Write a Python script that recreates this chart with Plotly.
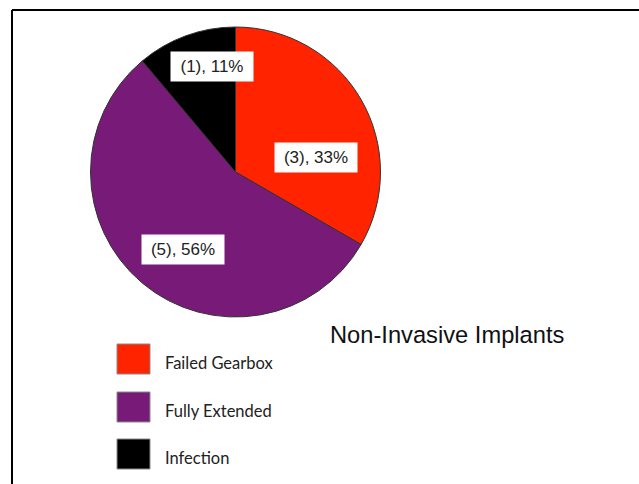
import plotly.graph_objects as go

# Outcome counts for the non-invasive implants
categories = ["Failed Gearbox", "Fully Extended", "Infection"]
counts = [3, 5, 1]
colors = ["#FF2300", "#781A78", "#000000"]
title_text = "Non-Invasive Implants"

W, H = 639, 484


def px_x(x):
    return x / W


def px_y(y):
    return 1 - y / H


total = sum(counts)
pct = [round(100 * c / total) for c in counts]

CX, CY, R = 235.5, 172, 145

fig = go.Figure(
    go.Pie(
        labels=categories,
        values=counts,
        sort=False,
        direction="clockwise",
        rotation=0,
        marker=dict(colors=colors, line=dict(color="#333333", width=1)),
        textinfo="none",
        hoverinfo="label+value+percent",
        showlegend=False,
        domain=dict(x=[px_x(CX - R), px_x(CX + R)],
                    y=[px_y(CY + R), px_y(CY - R)]),
    )
)

# White label boxes on each slice: "(count), pct%"
label_pos = {"Failed Gearbox": (316, 157), "Fully Extended": (183, 249), "Infection": (212, 66)}
annotations = []
for cat, c, p in zip(categories, counts, pct):
    x, y = label_pos[cat]
    annotations.append(dict(
        x=px_x(x), y=px_y(y), xref="paper", yref="paper",
        text=f"({c}), {p}%", showarrow=False,
        font=dict(family="Liberation Sans, Arial", size=17, color="#222222"),
        bgcolor="white", width=80, height=27, borderpad=1,
        xanchor="center", yanchor="middle",
    ))

# Title text to the right of the legend
annotations.append(dict(
    x=px_x(328), y=px_y(335), xref="paper", yref="paper",
    text=title_text, showarrow=False, xanchor="left", yanchor="middle",
    font=dict(family="Liberation Sans, Arial", size=23.7, color="#111111"),
))

# Legend: large colour swatches with labels
shapes = []
legend_tops = [344, 392, 439]
for cat, col, top in zip(categories, colors, legend_tops):
    shapes.append(dict(
        type="rect", xref="paper", yref="paper",
        x0=px_x(117), x1=px_x(150), y0=px_y(top + 30), y1=px_y(top),
        fillcolor=col, line=dict(color="#8a8a8a", width=1),
    ))
    annotations.append(dict(
        x=px_x(163), y=px_y(top + 19), xref="paper", yref="paper",
        text=cat, showarrow=False, xanchor="left", yanchor="middle",
        font=dict(family="Lato, Open Sans, sans-serif", size=16.5, color="#222222"),
    ))

# Frame lines along the top and left edges
shapes.append(dict(type="line", xref="paper", yref="paper",
                   x0=px_x(12), x1=1, y0=px_y(10), y1=px_y(10),
                   line=dict(color="black", width=2)))
shapes.append(dict(type="line", xref="paper", yref="paper",
                   x0=px_x(12), x1=px_x(12), y0=px_y(10), y1=0,
                   line=dict(color="black", width=2)))

fig.update_layout(
    width=W, height=H,
    margin=dict(l=0, r=0, t=0, b=0),
    paper_bgcolor="white", plot_bgcolor="white",
    annotations=annotations, shapes=shapes,
)

fig.write_html("out.html")
